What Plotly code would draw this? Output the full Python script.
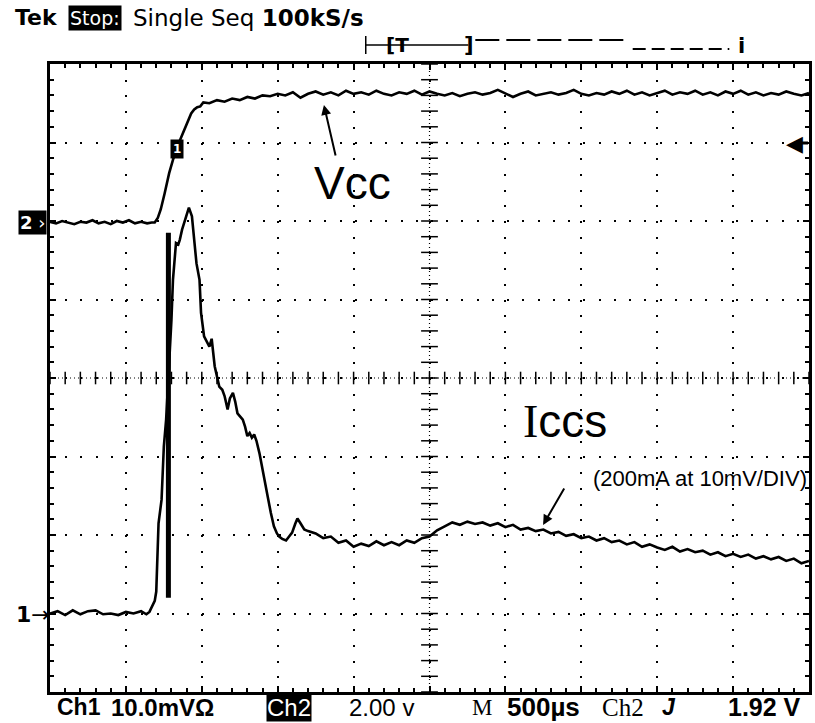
import numpy as np
import plotly.graph_objects as go

# ---------------- data (screen divisions: x 0..10 @ 500us/div, y -4..4) ----------------
vcc_t = [0.00, 0.08, 0.16, 0.24, 0.32, 0.40, 0.48, 0.56, 0.64, 0.72, 0.80, 0.88, 0.96, 1.04, 1.12, 1.20, 1.28, 1.34,
         1.38, 1.42, 1.46, 1.51, 1.57, 1.62, 1.66, 1.70, 1.73, 1.79, 1.83, 1.86, 1.90, 1.94, 1.98, 2.02,
         2.10, 2.20, 2.30, 2.40, 2.50, 2.60, 2.70, 2.80, 2.90, 3.00, 3.10, 3.20, 3.30, 3.40, 3.50, 3.60, 3.70, 3.80,
         3.90, 4.00, 4.10, 4.20, 4.30, 4.40, 4.50, 4.60, 4.70, 4.80, 4.90, 5.00, 5.10, 5.20, 5.30, 5.40, 5.50, 5.60,
         5.70, 5.80, 5.90, 6.00, 6.10, 6.20, 6.30, 6.40, 6.50, 6.60, 6.70, 6.80, 6.90, 7.00, 7.10, 7.20, 7.30, 7.40,
         7.50, 7.60, 7.70, 7.80, 7.90, 8.00, 8.10, 8.20, 8.30, 8.40, 8.50, 8.60, 8.70, 8.80, 8.90, 9.00, 9.10, 9.20,
         9.30, 9.40, 9.50, 9.60, 9.70, 9.80, 9.90, 10.00]
vcc_v = [1.99, 1.97, 2.00, 1.98, 1.96, 1.99, 1.98, 2.01, 1.97, 1.99, 1.96, 2.00, 1.98, 2.01, 1.97, 1.99, 1.97, 1.98,
         1.98, 2.04, 2.15, 2.35, 2.61, 2.78, 2.90, 3.00, 3.07, 3.20, 3.30, 3.37, 3.42, 3.45, 3.46, 3.51,
         3.50, 3.54, 3.52, 3.56, 3.54, 3.58, 3.56, 3.60, 3.59, 3.62, 3.60, 3.64, 3.57, 3.62, 3.65, 3.61, 3.64, 3.60,
         3.66, 3.62, 3.64, 3.61, 3.66, 3.62, 3.60, 3.64, 3.62, 3.66, 3.61, 3.65, 3.62, 3.60, 3.63, 3.59, 3.62, 3.64,
         3.61, 3.63, 3.67, 3.62, 3.58, 3.62, 3.65, 3.60, 3.62, 3.64, 3.61, 3.63, 3.67, 3.62, 3.60, 3.63, 3.61, 3.65,
         3.62, 3.66, 3.61, 3.64, 3.60, 3.63, 3.66, 3.61, 3.64, 3.62, 3.66, 3.61, 3.64, 3.60, 3.65, 3.62, 3.66, 3.61,
         3.64, 3.60, 3.63, 3.61, 3.65, 3.62, 3.60, 3.63]

iccs_t = [0.00, 0.10, 0.20, 0.30, 0.40, 0.50, 0.60, 0.70, 0.80, 0.90, 1.00, 1.10, 1.20, 1.27,
          1.31, 1.35, 1.38, 1.40, 1.41, 1.42, 1.43, 1.47, 1.50, 1.53, 1.57, 1.60, 1.62, 1.66, 1.69, 1.71, 1.74,
          1.79, 1.83, 1.87, 1.90, 1.93, 1.97, 1.99, 2.03, 2.07, 2.10, 2.13, 2.15, 2.17, 2.20, 2.23, 2.27, 2.30,
          2.34, 2.37, 2.41, 2.44, 2.47, 2.51, 2.54, 2.57, 2.60, 2.63, 2.66, 2.69, 2.72, 2.76, 2.79, 2.82, 2.87,
          2.91, 2.95, 2.99, 3.02, 3.06, 3.11, 3.15, 3.19, 3.23, 3.26, 3.30, 3.35, 3.40,
          3.50, 3.60, 3.70, 3.80, 3.90, 4.00, 4.10, 4.20, 4.30, 4.40, 4.50, 4.60, 4.70, 4.80, 4.90, 5.00, 5.10,
          5.20, 5.30, 5.40, 5.50, 5.60, 5.70, 5.80, 5.90, 6.00, 6.10, 6.20, 6.30, 6.40, 6.50, 6.60, 6.70, 6.80,
          6.90, 7.00, 7.10, 7.20, 7.30, 7.40, 7.50, 7.60, 7.70, 7.80, 7.90, 8.00, 8.10, 8.20, 8.30, 8.40, 8.50,
          8.60, 8.70, 8.80, 8.90, 9.00, 9.10, 9.20, 9.30, 9.40, 9.50, 9.60, 9.70, 9.80, 9.90, 10.00]
iccs_v = [-3.00, -2.97, -3.02, -2.96, -3.01, -2.97, -2.96, -3.01, -3.00, -3.02, -2.98, -3.00, -2.97, -3.01,
          -2.98, -2.90, -2.84, -2.72, -2.45, -2.10, -1.85, -1.55, -0.87, -0.53, 0.15, 0.74, 1.25, 1.72, 1.70, 1.76, 1.89,
          2.06, 2.17, 2.06, 1.80, 1.46, 1.25, 0.83, 0.53, 0.45, 0.40, 0.50, 0.30, 0.15, 0.02, -0.11, -0.15, -0.23,
          -0.40, -0.26, -0.19, -0.30, -0.45, -0.50, -0.53, -0.62, -0.74, -0.70, -0.76, -0.72, -0.80, -0.96, -1.12, -1.30, -1.52,
          -1.72, -1.89, -1.98, -2.02, -2.05, -2.07, -2.02, -1.97, -1.86, -1.79, -1.85, -1.93, -1.95,
          -1.98, -2.04, -2.02, -2.10, -2.07, -2.15, -2.11, -2.14, -2.08, -2.13, -2.09, -2.13, -2.07, -2.10, -2.04, -2.02, -1.94,
          -1.89, -1.84, -1.87, -1.83, -1.86, -1.84, -1.88, -1.85, -1.90, -1.87, -1.93, -1.91, -1.95, -1.93, -1.98, -1.96, -2.01,
          -1.99, -2.04, -2.02, -2.07, -2.04, -2.09, -2.07, -2.12, -2.09, -2.15, -2.12, -2.16, -2.19, -2.15, -2.21, -2.18, -2.22,
          -2.20, -2.25, -2.22, -2.27, -2.24, -2.28, -2.25, -2.30, -2.27, -2.31, -2.28, -2.33, -2.30, -2.36, -2.33]

cursor_t = [1.56, 1.56]
cursor_v = [1.85, -2.80]

header_parts = ["Tek", "Stop:", "Single Seq", "100kS/s"]
footer_parts = ["Ch1", "10.0mVΩ", "Ch2", "2.00 v", "M", "500µs", "Ch2", "J", "1.92 V"]

# ---------------- figure ----------------
W, H = 815, 723
L, R, T, B = 50, 3, 64, 31
PW, PH = W - L - R, H - T - B


def px(x):
    return (x - L) / PW


def py(y):
    return (H - B - y) / PH


def dx(x):
    return (x - L) / (PW / 10)


def dy(y):
    return (T + PH / 2 - y) / (PH / 8)


fig = go.Figure()

# centre cross lines (dotted) with tick crosses
fig.add_trace(go.Scatter(x=[5, 5], y=[-4, 4], mode="lines",
                         line=dict(color="black", width=1.2, dash="1px,3px"), hoverinfo="skip"))
fig.add_trace(go.Scatter(x=[0, 10], y=[0, 0], mode="lines",
                         line=dict(color="black", width=1.2, dash="1px,3px"), hoverinfo="skip"))
minor_x = np.round(np.arange(0, 10.001, 0.2), 3)
minor_y = np.round(np.arange(-4, 4.001, 0.2), 3)
fig.add_trace(go.Scatter(x=minor_x, y=[0] * len(minor_x), mode="markers",
                         marker=dict(symbol="line-ns", size=9, line=dict(color="black", width=1.5)),
                         hoverinfo="skip"))
fig.add_trace(go.Scatter(x=[5] * len(minor_y), y=minor_y, mode="markers",
                         marker=dict(symbol="line-ew", size=12, line=dict(color="black", width=1.5)),
                         hoverinfo="skip"))

# cursor bar
fig.add_trace(go.Scatter(x=cursor_t, y=cursor_v, mode="lines",
                         line=dict(color="black", width=5), hoverinfo="skip"))
# traces
fig.add_trace(go.Scatter(x=vcc_t, y=vcc_v, mode="lines", name="Vcc",
                         line=dict(color="black", width=2.6)))
fig.add_trace(go.Scatter(x=iccs_t, y=iccs_v, mode="lines", name="Iccs",
                         line=dict(color="black", width=2.6)))

axis_common = dict(showticklabels=False, showline=True, linecolor="black", linewidth=3, mirror="allticks",
                   ticks="inside", ticklen=6, tickwidth=2, tickcolor="black", zeroline=False,
                   showgrid=True, gridcolor="black", gridwidth=2, fixedrange=True)
fig.update_xaxes(range=[0, 10], dtick=1, tick0=0, griddash="2px,13.7px",
                 minor=dict(dtick=0.2, tick0=0, ticks="inside", ticklen=4, tickwidth=1.5, tickcolor="black",
                            showgrid=False),
                 **axis_common)
fig.update_yaxes(range=[-4, 4], dtick=1, tick0=0, griddash="2px,13.24px",
                 minor=dict(dtick=0.2, tick0=0, ticks="inside", ticklen=4, tickwidth=1.5, tickcolor="black",
                            showgrid=False),
                 **axis_common)

ann = []
SANS = "DejaVu Sans"
ARIAL = "Liberation Sans"
SERIF = "Liberation Serif"
# header
hy = py(18)
ann.append(dict(x=px(13), y=hy, text="<b>%s</b>" % header_parts[0], font=dict(family=SANS, size=22, color="black"),
                xanchor="left"))
ann.append(dict(x=px(68), y=hy, text=header_parts[1], font=dict(family=SANS, size=19, color="white"),
                bgcolor="black", borderpad=1, xanchor="left"))
ann.append(dict(x=px(131), y=hy, text="%s <b>%s</b>" % (header_parts[2], header_parts[3]),
                font=dict(family=SANS, size=23, color="black"), xanchor="left"))
# footer
fy = py(707)
foot_specs = [
    (55, footer_parts[0], ARIAL, 23, True, False),
    (109, footer_parts[1], ARIAL, 24, True, False),
    (267, footer_parts[2], ARIAL, 24, False, True),
    (348, footer_parts[3], ARIAL, 24, False, False),
    (472, footer_parts[4], SERIF, 23, False, False),
    (507, footer_parts[5], ARIAL, 26, True, False),
    (602, footer_parts[6], SERIF, 25, False, False),
    (662, footer_parts[7], ARIAL, 23, True, False),
    (729, footer_parts[8], ARIAL, 25, True, False),
]
for xpix, txt, fam, size, bold, boxed in foot_specs:
    t = "<b>%s</b>" % txt if bold else txt
    if txt == "J":
        t = "<b><i>J</i></b>"
    d = dict(x=px(xpix), y=fy, text=t, xanchor="left",
             font=dict(family=fam, size=size, color="white" if boxed else "black"))
    if boxed:
        d.update(bgcolor="black", borderpad=0)
    ann.append(d)

# channel markers
ann.append(dict(x=px(32), y=py(222), text="<b>2</b> ›", font=dict(family=SANS, size=18, color="white"),
                bgcolor="black", borderpad=1))
ann.append(dict(x=px(33), y=py(614), text="<b>1</b>→", font=dict(family=SANS, size=22, color="black")))
ann.append(dict(x=dx(177), y=dy(149), xref="x", yref="y", text="<b>1</b>",
                font=dict(family=SANS, size=12, color="white"), bgcolor="black", borderpad=2))
# trigger level arrow at right edge
ann.append(dict(x=px(797), y=py(143), text="◀", font=dict(family=SANS, size=22, color="black")))
# top trigger bracket text
ann.append(dict(x=px(399), y=py(45), text="<b>[T</b>", font=dict(family=SANS, size=20, color="black")))
ann.append(dict(x=px(471), y=py(45), text="<b>]</b>", font=dict(family=SANS, size=21, color="black")))
ann.append(dict(x=px(744), y=py(46), text="<b>i</b>", font=dict(family=SANS, size=21, color="black")))

# labels and hand-drawn arrows
ann.append(dict(x=dx(354), y=dy(183), xref="x", yref="y", text="Vcc",
                font=dict(family=ARIAL, size=46, color="black")))
ann.append(dict(x=dx(325), y=dy(105), xref="x", yref="y", text="", showarrow=True,
                ax=12, ay=52, arrowhead=2, arrowsize=1, arrowwidth=2, arrowcolor="black"))
ann.append(dict(x=dx(567), y=dy(421), xref="x", yref="y",
                text="<span style='font-family:Liberation Serif'>I</span>ccs",
                font=dict(family=ARIAL, size=46, color="black")))
ann.append(dict(x=px(812), y=py(478), text="(200mA at 10mV/DIV)", xanchor="right",
                font=dict(family=ARIAL, size=22, color="black")))
ann.append(dict(x=dx(545), y=dy(525), xref="x", yref="y", text="", showarrow=True,
                ax=22, ay=-38, arrowhead=2, arrowsize=1, arrowwidth=2, arrowcolor="black"))

for a in ann:
    a.setdefault("xref", "paper")
    a.setdefault("yref", "paper")
    a.setdefault("showarrow", False)
    a.setdefault("xanchor", "center")
    a.setdefault("yanchor", "middle")

shapes = [
    dict(type="line", xref="paper", yref="paper", x0=px(367), x1=px(470), y0=py(45), y1=py(45),
         line=dict(color="black", width=1.5)),
    dict(type="line", xref="paper", yref="paper", x0=px(367), x1=px(367), y0=py(36), y1=py(54),
         line=dict(color="black", width=1.5)),
    dict(type="line", xref="paper", yref="paper", x0=px(477), x1=px(630), y0=py(40), y1=py(40),
         line=dict(color="black", width=2, dash="24px,7px")),
    dict(type="line", xref="paper", yref="paper", x0=px(635), x1=px(732), y0=py(49), y1=py(49),
         line=dict(color="black", width=2, dash="13px,6px")),
    dict(type="line", xref="paper", yref="paper", x0=px(800), x1=px(811), y0=py(143), y1=py(143),
         line=dict(color="black", width=3)),
]

fig.update_layout(width=W, height=H, margin=dict(l=L, r=R, t=T, b=B, pad=0),
                  paper_bgcolor="white", plot_bgcolor="white", showlegend=False,
                  annotations=ann, shapes=shapes)

fig.write_html("out.html", config={"displayModeBar": False},
               post_script="document.body.style.margin='0';document.body.style.overflow='hidden';")
